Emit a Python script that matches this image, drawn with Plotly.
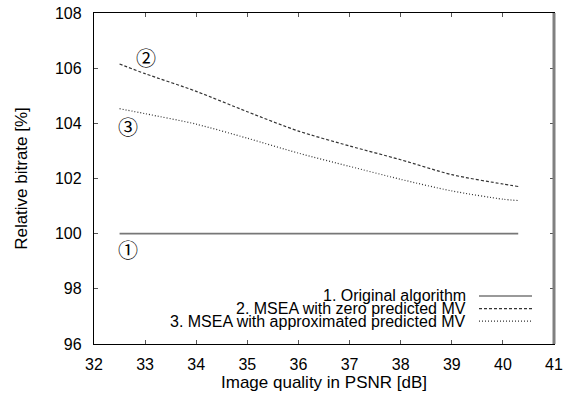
import plotly.graph_objects as go

psnr = [32.5, 33, 34, 35, 36, 37, 38, 39, 40, 40.3]
original = [100, 100, 100, 100, 100, 100, 100, 100, 100, 100]
msea_zero = [106.15, 105.8, 105.16, 104.42, 103.72, 103.18, 102.68, 102.14, 101.8, 101.71]
msea_approx = [104.53, 104.35, 103.97, 103.46, 102.92, 102.44, 101.97, 101.55, 101.25, 101.2]

names = ["1. Original algorithm", "2. MSEA with zero predicted MV",
         "3. MSEA with approximated predicted MV"]
x_ticks = [32, 33, 34, 35, 36, 37, 38, 39, 40, 41]
y_ticks = [96, 98, 100, 102, 104, 106, 108]

FONT = "Liberation Sans, Arial, Helvetica, sans-serif"
styles = [dict(color="#777777", width=1.6, dash="solid"),
          dict(color="#333333", width=1.2, dash="3px,2px"),
          dict(color="#333333", width=1.2, dash="1px,2px")]

fig = go.Figure()
for ys, nm, st in zip([original, msea_zero, msea_approx], names, styles):
    fig.add_trace(go.Scatter(x=psnr, y=ys, mode="lines", name=nm,
                             line=dict(shape="spline", smoothing=0.8, **st),
                             showlegend=False))

# plot area target in window pixels
L, R, T, B = 94, 554, 13.3, 344
def px(xp): return (xp - L) / (R - L)
def py(yp): return (B - yp) / (B - T)
rows = [296.0, 308.6, 321.2]
for nm, st, yr in zip(names, styles, rows):
    fig.add_annotation(xref="paper", yref="paper", x=px(468), y=py(yr),
                       text=nm, showarrow=False, xanchor="right", yanchor="middle",
                       font=dict(family=FONT, size=16, color="black"))
    fig.add_shape(type="line", xref="paper", yref="paper",
                  x0=px(479), x1=px(532), y0=py(yr), y1=py(yr),
                  line=dict(color=st["color"], width=st["width"], dash=st["dash"]))

# circled labels
for txt, xv, yv in [("\u2460", 32.67, 99.41), ("\u2461", 33.01, 106.37), ("\u2462", 32.67, 103.89)]:
    fig.add_annotation(x=xv, y=yv, text=txt, showarrow=False,
                       font=dict(family="Noto Sans CJK JP", size=20, color="black"))

# right border gray thick
fig.add_shape(type="line", xref="paper", yref="paper", x0=1, x1=1, y0=0, y1=1,
              line=dict(color="#808080", width=3))

axis_common = dict(showgrid=False, zeroline=False, showline=True, linecolor="black",
                   linewidth=1.3, mirror="ticks", ticks="inside", ticklen=4,
                   tickcolor="#555555", tickwidth=1, automargin=False,
                   ticklabeloverflow="allow",
                   tickfont=dict(family=FONT, size=16, color="black"))
fig.update_xaxes(range=[32, 41], tickvals=x_ticks, ticklabelstandoff=6,
                 title=dict(text="Image quality in PSNR [dB]", standoff=0,
                            font=dict(family=FONT, size=17, color="black")),
                 **axis_common)
fig.update_yaxes(range=[96, 108], tickvals=y_ticks, ticklabelstandoff=8,
                 title=dict(text="Relative bitrate [%]", standoff=22,
                            font=dict(family=FONT, size=17, color="black")),
                 **axis_common)
W, H = 573, 404
fig.update_layout(width=W, height=H, plot_bgcolor="white", paper_bgcolor="white",
                  margin=dict(l=L, r=W - R, t=T, b=H - B, autoexpand=False))
fig.write_html("out.html", config={"displayModeBar": False},
               post_script="document.body.style.margin='0px';document.body.style.overflow='hidden';")
